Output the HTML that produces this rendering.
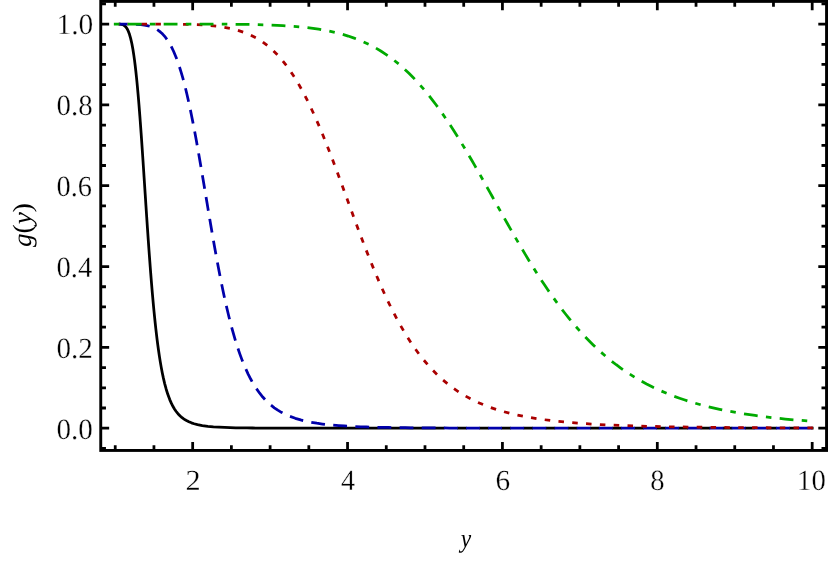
<!DOCTYPE html>
<html lang="en"><head><meta charset="utf-8"><title>g(y) versus y</title>
<style>
html,body{margin:0;padding:0;background:#fff;}
body{width:830px;height:563px;overflow:hidden;}
svg{display:block;will-change:transform;}
text{font-family:"Liberation Serif",serif;fill:#000;text-rendering:geometricPrecision;stroke:#fff;stroke-width:0.3px;paint-order:fill stroke;}
.i{font-style:italic;}.n{stroke:none;}

</style></head><body>
<svg width="830" height="563" viewBox="0 0 830 563">
<rect x="0" y="0" width="830" height="563" fill="#fff"/>
<g fill="none" stroke-width="2.768" stroke-linecap="butt" stroke-linejoin="round">
<path stroke="#000" d="M118.79 24.08L120.19 24.17L120.89 24.26L121.57 24.39L122.25 24.57L122.91 24.81L123.54 25.10L124.14 25.46L124.71 25.88L125.23 26.34L125.71 26.84L126.16 27.39L126.96 28.55L127.64 29.76L128.51 31.67L129.48 34.31L130.64 38.33L131.88 43.80L132.90 49.34L133.77 54.87L134.54 60.42L135.24 66.01L135.87 71.51L136.47 77.15L137.02 82.67L137.55 88.30L138.05 93.89L138.52 99.37L138.98 104.95L139.43 110.60L139.86 116.17L140.28 121.76L140.69 127.35L141.09 132.92L141.48 138.46L141.87 144.08L142.25 149.64L142.63 155.27L143.01 160.95L143.38 166.53L143.74 171.99L144.11 177.63L144.48 183.28L144.84 188.79L145.21 194.45L145.57 199.94L145.94 205.57L146.31 211.17L146.68 216.74L147.06 222.41L147.43 227.88L147.82 233.59L148.20 239.08L148.59 244.63L148.99 250.25L149.40 255.90L149.81 261.45L150.23 267.02L150.66 272.59L151.10 278.16L151.55 283.71L152.02 289.35L152.50 294.93L152.99 300.45L153.51 306.10L154.04 311.65L154.59 317.18L155.17 322.76L155.78 328.36L156.42 333.94L157.09 339.47L157.80 345.00L158.56 350.55L159.38 356.13L160.25 361.61L161.20 367.12L162.25 372.66L163.40 378.14L164.68 383.57L166.13 388.97L167.80 394.33L169.74 399.57L171.43 403.41L173.03 406.53L174.45 408.93L176.02 411.24L177.31 412.91L178.69 414.49L180.16 415.98L181.74 417.37L183.40 418.65L185.15 419.81L186.97 420.85L188.86 421.78L191.45 422.84L194.11 423.73L197.49 424.62L202.30 425.56L207.84 426.31L213.42 426.83L219.01 427.20L224.60 427.45L230.20 427.64L235.80 427.77L241.40 427.87L247.00 427.94L252.60 428.00L258.20 428.04L263.80 428.07L269.40 428.10L275.00 428.12L280.60 428.13L286.20 428.15L291.80 428.16L297.40 428.16L303.00 428.17L308.60 428.17L314.20 428.18L319.80 428.18L325.40 428.18L331.00 428.19L336.60 428.19L342.20 428.19L347.80 428.19L353.40 428.19L359.00 428.19L364.60 428.19L370.20 428.20L375.80 428.20L381.40 428.20L387.00 428.20L392.60 428.20L398.20 428.20L403.80 428.20L409.40 428.20L415.00 428.20L420.60 428.20L426.20 428.20L431.80 428.20L437.40 428.20L443.00 428.20L444.47 428.20M457.12 428.20L462.72 428.20L466.61 428.20M479.26 428.20L484.86 428.20L488.75 428.20M501.40 428.20L507.00 428.20L510.89 428.20M523.54 428.20L529.14 428.20L533.03 428.20M545.68 428.20L551.28 428.20L555.17 428.20M567.82 428.20L573.42 428.20L577.31 428.20M589.96 428.20L595.56 428.20L599.45 428.20M612.10 428.20L617.70 428.20L621.59 428.20M634.24 428.20L639.84 428.20L643.73 428.20M656.38 428.20L661.98 428.20L665.87 428.20M678.52 428.20L684.12 428.20L688.01 428.20M700.66 428.20L706.26 428.20L710.15 428.20M722.80 428.20L728.40 428.20L732.29 428.20M744.94 428.20L750.54 428.20L754.43 428.20M767.08 428.20L772.68 428.20L776.57 428.20M789.22 428.20L794.82 428.20L798.71 428.20M811.36 428.20L813.57 428.20"/>
<path stroke="#0000aa" d="M118.79 24.05L124.39 24.06L127.68 24.07M135.99 24.27L140.88 24.61L144.35 25.05L147.10 25.57L149.65 26.24M157.19 29.65L158.92 30.85L160.56 32.16L162.11 33.58L163.56 35.09L165.37 37.23L166.94 39.34M171.23 46.46L173.67 51.52L175.84 56.69L176.77 59.11M179.50 66.97L181.17 72.35L182.72 77.73L183.40 80.21M185.49 88.30L186.81 93.77L188.07 99.24L188.62 101.70M190.38 109.88L191.52 115.41L192.61 120.86L193.11 123.42M194.67 131.58L195.70 137.12L196.70 142.60L197.16 145.15M198.62 153.38L199.59 158.94L200.54 164.44L200.97 166.95M202.37 175.18L203.31 180.75L204.24 186.28L204.66 188.78M206.04 197.02L206.97 202.57L207.90 208.11L208.33 210.66M209.72 218.88L210.67 224.46L211.61 229.93L212.05 232.48M213.48 240.67L214.46 246.21L215.45 251.72L215.91 254.25M217.43 262.49L218.47 268.00L219.53 273.50L220.02 276.00M221.66 284.19L222.80 289.71L223.96 295.17L224.51 297.70M226.33 305.82L227.61 311.30L228.93 316.74L229.56 319.26M231.66 327.33L233.15 332.74L234.71 338.12L235.46 340.61M237.98 348.53L239.80 353.83L241.74 359.11L242.68 361.53M245.89 369.20L248.26 374.30L250.81 379.29L252.06 381.56M256.42 388.66L259.68 393.22L262.76 397.02L264.98 399.49M271.01 405.19L274.32 407.79L277.78 410.16L281.38 412.32L282.46 412.91M290.00 416.41L295.27 418.32L300.63 419.92L303.17 420.58M311.29 422.32L316.82 423.24L322.36 424.01L324.97 424.32M333.24 425.16L338.83 425.61L344.41 425.98L347.04 426.14M355.34 426.55L360.94 426.78L366.54 426.97L369.16 427.05M377.46 427.27L383.06 427.39L388.66 427.49L391.29 427.53M399.60 427.65L405.20 427.72L410.80 427.77L413.43 427.80M421.74 427.87L427.34 427.90L432.94 427.94L435.57 427.95M443.88 427.99L449.48 428.01L455.08 428.03L457.71 428.04M466.02 428.06L471.62 428.08L477.22 428.09L479.85 428.10M488.16 428.11L493.76 428.12L499.36 428.13L501.99 428.13M510.30 428.14L515.90 428.15L521.50 428.15L524.13 428.15M532.44 428.16L538.04 428.16L543.64 428.17L546.27 428.17M554.58 428.17L560.18 428.17L565.78 428.18L568.41 428.18M576.72 428.18L582.32 428.18L587.92 428.18L590.55 428.18M598.86 428.19L604.46 428.19L610.06 428.19L612.69 428.19M621.00 428.19L626.60 428.19L632.20 428.19L634.83 428.19M643.14 428.19L648.74 428.19L654.34 428.19L656.97 428.19M665.28 428.19L670.88 428.19L676.48 428.19L679.11 428.20M687.42 428.20L693.02 428.20L698.62 428.20L701.25 428.20M709.56 428.20L715.16 428.20L720.76 428.20L723.39 428.20M731.70 428.20L737.30 428.20L742.90 428.20L745.53 428.20M753.84 428.20L759.44 428.20L765.04 428.20L767.67 428.20M775.98 428.20L781.58 428.20L787.18 428.20L789.81 428.20M798.12 428.20L803.72 428.20L809.32 428.20L811.95 428.20"/>
<path stroke="#aa0000" d="M118.79 24.05L119.38 24.05M127.69 24.05L128.28 24.05M141.53 24.05L147.06 24.06M155.37 24.07L160.90 24.08M183.05 24.30L188.58 24.42M196.89 24.71L202.41 24.99M210.70 25.60L216.20 26.16M224.43 27.32L229.86 28.35M237.92 30.36L243.18 32.06M250.86 35.22L255.78 37.74M262.83 42.14L267.26 45.45M273.52 50.92L277.41 54.84M282.89 61.08L286.31 65.43M291.14 72.20L294.17 76.82M298.49 83.93L301.21 88.72M305.14 96.07L307.63 100.98M311.25 108.47L313.57 113.48M316.96 121.08L319.15 126.16M322.36 133.82L324.44 138.92M327.53 146.67L329.53 151.79M332.52 159.57L334.47 164.72M337.39 172.52L339.31 177.70M342.19 185.52L344.08 190.68M346.94 198.50L348.83 203.68M351.70 211.52L353.60 216.69M356.48 224.49L358.41 229.67M361.34 237.47L363.30 242.62M366.29 250.37L368.31 255.52M371.39 263.23L373.48 268.36M376.68 276.03L378.85 281.11M382.20 288.73L384.47 293.74M388.00 301.28L390.41 306.24M394.16 313.67L396.73 318.56M400.75 325.86L403.51 330.64M407.84 337.74L410.83 342.38M415.53 349.24L418.79 353.70M423.92 360.24L427.49 364.46M433.10 370.59L437.00 374.51M443.12 380.13L447.37 383.67M454.00 388.68L458.57 391.79M465.66 396.12L470.51 398.77M477.99 402.40L483.06 404.59M490.82 407.57L496.06 409.35M504.02 411.74L509.36 413.15M517.45 415.05L522.86 416.18M531.04 417.68L536.50 418.56M544.72 419.75L550.21 420.45M558.46 421.38L563.97 421.93M572.24 422.67L577.76 423.11M586.04 423.70L591.56 424.05M599.86 424.52L605.38 424.80M613.68 425.18L619.21 425.40M627.51 425.70L633.04 425.89M641.35 426.13L646.88 426.28M655.18 426.48L660.71 426.60M669.02 426.76L674.55 426.86M682.86 426.99L688.39 427.07M696.70 427.18L702.23 427.25M710.54 427.34L716.07 427.40M724.38 427.47L729.91 427.52M738.22 427.58L743.75 427.62M752.06 427.67L757.59 427.70M765.90 427.75L771.43 427.77M779.74 427.81L785.26 427.83M793.57 427.86L799.10 427.88M807.41 427.91L812.94 427.92"/>
<path stroke="#00aa00" d="M113.85 24.05L119.38 24.05M127.69 24.05L133.29 24.05L138.89 24.05L141.52 24.05M149.83 24.05L155.36 24.05M163.67 24.05L169.27 24.05L174.87 24.05L177.50 24.06M185.81 24.06L191.34 24.07M199.65 24.08L205.25 24.09L210.85 24.11L213.48 24.12M221.79 24.16L227.32 24.20M235.63 24.27L241.23 24.34L246.83 24.43L249.46 24.47M257.77 24.65L263.30 24.80M271.60 25.09L277.20 25.34L282.79 25.63L285.42 25.79M293.71 26.37L299.22 26.84M307.48 27.71L313.04 28.41L318.58 29.22L321.17 29.64M329.34 31.17L334.74 32.36M342.78 34.44L348.15 36.06L353.45 37.87L355.91 38.77M363.60 41.94L368.61 44.28M375.95 48.16L380.77 51.02L385.48 54.06L387.64 55.54M394.33 60.48L398.63 63.95M404.88 69.44L408.95 73.29L412.91 77.26L414.72 79.14M420.33 85.28L423.94 89.46M429.21 95.89L432.66 100.30L436.03 104.77L437.58 106.88M442.42 113.66L445.55 118.20M450.17 125.12L453.22 129.82L456.23 134.55L457.61 136.76M461.98 143.86L464.83 148.58M469.07 155.73L471.90 160.57L474.70 165.41L476.01 167.69M480.13 174.92L482.84 179.72M486.92 186.98L489.66 191.88L492.39 196.77L493.66 199.05M497.71 206.31L500.40 211.12M504.47 218.38L507.22 223.26L509.99 228.14L511.28 230.41M515.42 237.63L518.19 242.40M522.40 249.57L525.27 254.39L528.17 259.19L529.53 261.42M533.90 268.48L536.85 273.15M541.37 280.15L544.47 284.84L547.60 289.47L549.08 291.62M553.86 298.42L557.10 302.89M562.09 309.55L565.53 313.99L569.03 318.36L570.68 320.38M576.05 326.73L579.70 330.87M585.34 336.98L589.24 341.00L593.22 344.95L595.11 346.77M601.22 352.39L605.39 356.03M611.81 361.30L616.25 364.73L620.76 368.05L622.90 369.56M629.81 374.19L634.49 377.12M641.67 381.30L646.60 383.98L651.59 386.52L653.95 387.68M661.50 391.14L666.59 393.31M674.32 396.34L679.59 398.25L684.89 400.05L687.39 400.86M695.34 403.27L700.67 404.76M708.72 406.83L714.17 408.12L719.64 409.33L722.21 409.87M730.36 411.48L735.80 412.46M744.00 413.83L749.54 414.69L755.08 415.48L757.68 415.84M765.92 416.90L771.42 417.55M779.68 418.45L785.26 419.01L790.83 419.53L793.44 419.76M801.72 420.46L807.24 420.89"/>
</g>
<path d="M115.23 450.45V445.20M115.23 1.40V6.65M153.95 450.45V445.20M153.95 1.40V6.65M192.67 450.45V442.00M192.67 1.40V10.25M231.39 450.45V445.20M231.39 1.40V6.65M270.11 450.45V445.20M270.11 1.40V6.65M308.83 450.45V445.20M308.83 1.40V6.65M347.55 450.45V442.00M347.55 1.40V10.25M386.27 450.45V445.20M386.27 1.40V6.65M424.99 450.45V445.20M424.99 1.40V6.65M463.71 450.45V445.20M463.71 1.40V6.65M502.43 450.45V442.00M502.43 1.40V10.25M541.15 450.45V445.20M541.15 1.40V6.65M579.87 450.45V445.20M579.87 1.40V6.65M618.59 450.45V445.20M618.59 1.40V6.65M657.31 450.45V442.00M657.31 1.40V10.25M696.03 450.45V445.20M696.03 1.40V6.65M734.75 450.45V445.20M734.75 1.40V6.65M773.47 450.45V445.20M773.47 1.40V6.65M812.19 450.45V442.00M812.19 1.40V10.25M100.75 448.41H105.95M826.55 448.41H821.50M100.75 428.20H109.15M826.55 428.20H818.30M100.75 407.99H105.95M826.55 407.99H821.50M100.75 387.78H105.95M826.55 387.78H821.50M100.75 367.58H105.95M826.55 367.58H821.50M100.75 347.37H109.15M826.55 347.37H818.30M100.75 327.16H105.95M826.55 327.16H821.50M100.75 306.95H105.95M826.55 306.95H821.50M100.75 286.75H105.95M826.55 286.75H821.50M100.75 266.54H109.15M826.55 266.54H818.30M100.75 246.33H105.95M826.55 246.33H821.50M100.75 226.12H105.95M826.55 226.12H821.50M100.75 205.92H105.95M826.55 205.92H821.50M100.75 185.71H109.15M826.55 185.71H818.30M100.75 165.50H105.95M826.55 165.50H821.50M100.75 145.30H105.95M826.55 145.30H821.50M100.75 125.09H105.95M826.55 125.09H821.50M100.75 104.88H109.15M826.55 104.88H818.30M100.75 84.67H105.95M826.55 84.67H821.50M100.75 64.46H105.95M826.55 64.46H821.50M100.75 44.26H105.95M826.55 44.26H821.50M100.75 24.05H109.15M826.55 24.05H818.30M100.75 3.84H105.95M826.55 3.84H821.50" stroke="#000" stroke-width="2.77" fill="none"/>
<rect x="100.75" y="1.40" width="725.80" height="449.05" fill="none" stroke="#000" stroke-width="2.90"/>
<text transform="translate(56.41 34.25) scale(1.0085 1)" font-size="29.20" text-anchor="start">1.0</text>
<text transform="translate(56.50 115.13) scale(0.9890 1)" font-size="29.20" text-anchor="start">0.8</text>
<text transform="translate(56.52 196.01) scale(0.9734 1)" font-size="29.20" text-anchor="start">0.6</text>
<text transform="translate(56.51 276.89) scale(0.9805 1)" font-size="29.20" text-anchor="start">0.4</text>
<text transform="translate(56.49 357.77) scale(0.9977 1)" font-size="29.20" text-anchor="start">0.2</text>
<text transform="translate(56.49 438.65) scale(0.9978 1)" font-size="29.20" text-anchor="start">0.0</text>
<text transform="translate(185.57 490.20) scale(1.0380 1)" font-size="29.20" text-anchor="start">2</text>
<text transform="translate(340.90 490.20) scale(0.9614 1)" font-size="29.20" text-anchor="start">4</text>
<text transform="translate(495.44 490.20) scale(1.0060 1)" font-size="29.20" text-anchor="start">6</text>
<text transform="translate(650.36 490.20) scale(0.9818 1)" font-size="29.20" text-anchor="start">8</text>
<text transform="translate(797.12 490.20) scale(0.9854 1)" font-size="29.20" text-anchor="start">10</text>
<text class="i n" transform="translate(460.76 547.10) scale(0.8899 1)" font-size="26.40" text-anchor="start">y</text>
<text class="n" transform="translate(31.40 247.11) rotate(-90) scale(1.0356 1)" font-size="26.40" text-anchor="start"><tspan class="i">g</tspan>(<tspan class="i">y</tspan>)</text>
</svg></body></html>
